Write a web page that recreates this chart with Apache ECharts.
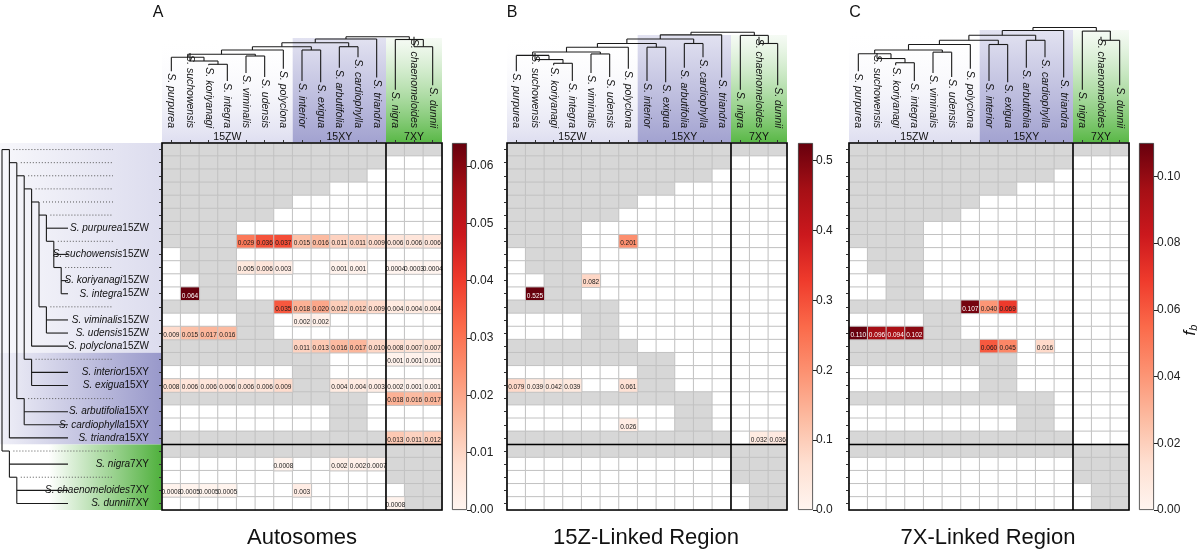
<!DOCTYPE html>
<html><head><meta charset="utf-8">
<script src="https://cdn.jsdelivr.net/npm/echarts@6/dist/echarts.min.js"></script>
<style>html,body{margin:0;padding:0;background:#fff}#c{width:1200px;height:554px}</style>
</head><body><div id="c"></div>
<script>
// ---------------- DATA ----------------
const SPECIES = ['S. purpurea','S. suchowensis','S. koriyanagi','S. integra','S. viminalis','S. udensis','S. polyclona',
  'S. interior','S. exigua','S. arbutifolia','S. cardiophylla','S. triandra','S. nigra','S. chaenomeloides','S. dunnii'];
const GROUP_NAMES = ['15ZW','15XY','7XY'];
const GROUP_SIZES = [7,5,3];
const ROW_LABELS = ['','','','','','','S. purpurea15ZW','','S. suchowensis15ZW','','S. koriyanagi15ZW','S. integra15ZW',
  '','S. viminalis15ZW','S. udensis15ZW','S. polyclona15ZW','','S. interior15XY','S. exigua15XY','',
  'S. arbutifolia15XY','S. cardiophylla15XY','S. triandra15XY','','S. nigra7XY','','S. chaenomeloides7XY','S. dunnii7XY'];
const ROW_PARENT = [-1,0,1,2,3,4,5,5,7,7,9,9,4,12,12,3,2,16,16,1,19,19,0,-1,23,23,25,25];
const ROW_GROUP = [0,0,0,0,0,0,0,0,0,0,0,0,0,0,0,0,1,1,1,1,1,1,1,2,2,2,2,2];
const GRAY_MASK = [
 '111111111111111','111111111111000','111111111110000','111111111000000','111111100000000',
 '111111000000000','111100000000000','111100000000000','011100000000000','011100000000000',
 '001100000000000','001100000000000','111111000000000','000011000000000','000011000000000',
 '111111100000000','111111111000000','000000011000000','000000011000000','111111111110000',
 '000000000110000','000000000110000','111111111111000','111111111111111','000000000000111',
 '000000000000111','000000000000011','000000000000011'];
// [row, col, fb]
const VALUES_A = [
 [7,4,0.029],[7,5,0.036],[7,6,0.037],[7,7,0.015],[7,8,0.016],[7,9,0.011],[7,10,0.011],[7,11,0.009],[7,12,0.006],[7,13,0.006],[7,14,0.006],
 [9,4,0.005],[9,5,0.006],[9,6,0.003],[9,9,0.001],[9,10,0.001],[9,12,0.0004],[9,13,0.0003],[9,14,0.0004],
 [11,1,0.064],
 [12,6,0.035],[12,7,0.018],[12,8,0.02],[12,9,0.012],[12,10,0.012],[12,11,0.009],[12,12,0.004],[12,13,0.004],[12,14,0.004],
 [13,7,0.002],[13,8,0.002],
 [14,0,0.009],[14,1,0.015],[14,2,0.017],[14,3,0.016],
 [15,7,0.011],[15,8,0.013],[15,9,0.016],[15,10,0.017],[15,11,0.010],[15,12,0.008],[15,13,0.007],[15,14,0.007],
 [16,12,0.001],[16,13,0.001],[16,14,0.001],
 [18,0,0.008],[18,1,0.006],[18,2,0.006],[18,3,0.006],[18,4,0.006],[18,5,0.006],[18,6,0.009],[18,9,0.004],[18,10,0.004],[18,11,0.003],[18,12,0.002],[18,13,0.001],[18,14,0.001],
 [19,12,0.018],[19,13,0.016],[19,14,0.017],
 [22,12,0.013],[22,13,0.011],[22,14,0.012],
 [24,6,0.0008],[24,9,0.002],[24,10,0.002],[24,11,0.0007],
 [26,0,0.0008],[26,1,0.0005],[26,2,0.0005],[26,3,0.0005],[26,7,0.003],
 [27,12,0.0008]];
const VALUES_B = [
 [7,6,0.201],[10,4,0.082],[11,1,0.525],
 [18,0,0.079],[18,1,0.039],[18,2,0.042],[18,3,0.039],[18,6,0.061],
 [21,6,0.026],[22,13,0.032],[22,14,0.036]];
const VALUES_C = [
 [12,6,0.107],[12,7,0.040],[12,8,0.069],
 [14,0,0.110],[14,1,0.096],[14,2,0.094],[14,3,0.102],
 [15,7,0.060],[15,8,0.045],[15,10,0.016]];
const RANGE_MAX = [0.064, 0.525, 0.11];
const TICKS_A = [0,0.01,0.02,0.03,0.04,0.05,0.06];
const TICKS_B = [0,0.1,0.2,0.3,0.4,0.5];
const TICKS_C = [0,0.02,0.04,0.06,0.08,0.10];
const TITLES = ['Autosomes','15Z-Linked Region','7X-Linked Region'];
const LETTERS = ['A','B','C'];
// column dendrogram merges: children are leaf indices or merge ids, h = merge height
const MERGES = [
 {id:'ki', l:2, r:3, h:5.7},
 {id:'such', l:1, r:'ki', h:9},
 {id:'purp', l:0, r:'such', h:12.7},
 {id:'vu', l:4, r:5, h:14},
 {id:'zw6', l:'purp', r:'vu', h:15.7},
 {id:'zw', l:'zw6', r:6, h:20},
 {id:'ie', l:7, r:8, h:20},
 {id:'zwie', l:'zw', r:'ie', h:23.3},
 {id:'ac', l:9, r:10, h:23.3},
 {id:'zwieac', l:'zwie', r:'ac', h:27.3},
 {id:'xyzw', l:'zwieac', r:11, h:31},
 {id:'cd', l:13, r:14, h:23.3},
 {id:'x7', l:12, r:'cd', h:30.5},
 {id:'root', l:'xyzw', r:'x7', h:33.3}];

// ---------------- LAYOUT / STYLE ----------------
const FONT = '"Liberation Sans", Arial, sans-serif';
const REDS = ['#fff5f0','#fee0d2','#fcbba1','#fc9272','#fb6a4a','#ef3b2c','#cb181d','#a50f15','#67000d'];
const GRID_TOP = 143, GRID_H = 367, GRID_W = 280;
const PANELS = [
  {left:162, cb:452, dTop:30, dH:40, bandTop:38, letterX:158, titleX:302},
  {left:507, cb:798, dTop:24.7, dH:45, bandTop:35, letterX:512, titleX:646},
  {left:849, cb:1139, dTop:19, dH:51, bandTop:30, letterX:855, titleX:988}];
const VALUES = [VALUES_A, VALUES_B, VALUES_C];
const TICKS = [TICKS_A, TICKS_B, TICKS_C];
const DEC = [2,1,2];
const COL_FS = 10.5, LABEL_MARGIN = 15;
const BAND = [
  {head:['#dedef0','rgba(255,255,255,0)'], side:['#f7f7fb','#dcdcee']},
  {head:['#a2a2d0','#e2e2f1'], side:['#f0f0f8','#9898ca']},
  {head:['#58b745','rgba(240,248,238,0.6)'], side:['#ffffff','#4fb03c']}];

const mctx = document.createElement('canvas').getContext('2d');
mctx.font = 'italic ' + COL_FS + 'px "Liberation Sans"';
const LABEL_W = SPECIES.map(s => mctx.measureText(s).width);
const fmt = v => v >= 0.001 ? v.toFixed(3) : String(v);

function depthOf(r){ let d = 1, p = ROW_PARENT[r]; while (p >= 0){ d++; p = ROW_PARENT[p]; } return d; }
const LINE = {stroke:'#1a1a1a', lineWidth:1.1};

function leftTree(params, api){
  const ch = [];
  const y = r => api.coord([0, r])[1];
  const xd = d => 2 + d * 7.4;
  const rootKids = ROW_PARENT.map((p,i) => p === -1 ? i : -1).filter(i => i >= 0);
  ch.push({type:'line', shape:{x1:xd(0), y1:y(rootKids[0]), x2:xd(0), y2:y(rootKids[rootKids.length-1])}, style:LINE});
  for (let r = 0; r < ROW_PARENT.length; r++){
    const p = ROW_PARENT[r];
    const px = xd(p < 0 ? 0 : depthOf(p));
    const yr = y(r);
    if (ROW_LABELS[r] !== ''){
      ch.push({type:'line', shape:{x1:px, y1:yr, x2:68, y2:yr}, style:LINE});
    } else {
      const nx = xd(depthOf(r));
      ch.push({type:'line', shape:{x1:px, y1:yr, x2:nx, y2:yr}, style:LINE});
      ch.push({type:'line', shape:{x1:nx + 4, y1:yr, x2:113, y2:yr}, style:{stroke:'#555', lineWidth:1, lineDash:[1,2]}});
      const kids = ROW_PARENT.map((q,i) => q === r ? i : -1).filter(i => i >= 0);
      ch.push({type:'line', shape:{x1:nx, y1:yr, x2:nx, y2:y(kids[kids.length-1])}, style:LINE});
    }
  }
  return {type:'group', children:ch};
}

function leftBands(params, api){
  const ch = [];
  const s = api.size([1,1]);
  const x0 = api.coord([0,0])[0] - s[0]/2;
  for (let g = 0; g < 3; g++){
    const rows = ROW_GROUP.map((v,i) => v === g ? i : -1).filter(i => i >= 0);
    const top = api.coord([0, rows[0]])[1] - s[1]/2;
    const bot = api.coord([0, rows[rows.length-1]])[1] + s[1]/2;
    const st = BAND[g].side;
    ch.push({type:'rect', shape:{x:0, y:top, width:x0, height:bot-top},
      style:{fill:new echarts.graphic.LinearGradient(0,0,1,0,[{offset:0,color:st[0]},{offset:g===2?0.3:0,color:st[0]},{offset:1,color:st[1]}])}});
  }
  return {type:'group', children:ch};
}

function headerBands(p){
  return function(params, api){
    const ch = [];
    const s = api.size([1,1]);
    const top = api.coord([0,0])[1] - s[1]/2;
    let start = 0;
    for (let g = 0; g < GROUP_SIZES.length; g++){
      const end = start + GROUP_SIZES[g] - 1;
      const xa = api.coord([start,0])[0] - s[0]/2, xb = api.coord([end,0])[0] + s[0]/2;
      const hc = BAND[g].head;
      ch.push({type:'rect', shape:{x:xa, y:PANELS[p].bandTop, width:xb-xa, height:top-PANELS[p].bandTop},
        style:{fill:new echarts.graphic.LinearGradient(0,1,0,0,[{offset:0,color:hc[0]},{offset:1,color:hc[1]}])}});
      ch.push({type:'text', x:(xa+xb)/2, y:top-6, style:{text:GROUP_NAMES[g], fill:'#111', font:'10.5px ' + FONT, align:'center', verticalAlign:'middle'}});
      start = end + 1;
    }
    return {type:'group', children:ch};
  };
}

function frame(params, api){
  const s = api.size([1,1]);
  const c0 = api.coord([0,0]);
  const L = c0[0] - s[0]/2, T = c0[1] - s[1]/2;
  const W = SPECIES.length * s[0], H = ROW_LABELS.length * s[1];
  const cs = api.value(0), rs = api.value(1);
  const st = {stroke:'#000', lineWidth:1.6, fill:null};
  return {type:'group', children:[
    {type:'rect', shape:{x:L, y:T, width:W, height:H}, style:st},
    {type:'line', shape:{x1:L + cs*s[0], y1:T, x2:L + cs*s[0], y2:T+H}, style:st},
    {type:'line', shape:{x1:L, y1:T + rs*s[1], x2:L+W, y2:T + rs*s[1]}, style:st}]};
}

function dendro(params, api){
  const ch = [];
  const pos = {};
  const labelBase = GRID_TOP - LABEL_MARGIN;
  const leafPos = i => [api.coord([i, 0])[0], labelBase - LABEL_W[i] - 2];
  const get = k => typeof k === 'number' ? leafPos(k) : pos[k];
  MERGES.forEach(m => {
    const a = get(m.l), b = get(m.r);
    const yy = api.coord([0, m.h])[1];
    ch.push({type:'line', shape:{x1:a[0], y1:yy, x2:b[0], y2:yy}, style:LINE});
    ch.push({type:'line', shape:{x1:a[0], y1:yy, x2:a[0], y2:a[1]}, style:LINE});
    ch.push({type:'line', shape:{x1:b[0], y1:yy, x2:b[0], y2:b[1]}, style:LINE});
    pos[m.id] = [(a[0]+b[0])/2, yy];
  });
  return {type:'group', children:ch};
}

// ---------------- OPTION ----------------
const grid = [], xAxis = [], yAxis = [], series = [], visualMap = [];
const rowIds = ROW_LABELS.map((_,i) => 'r' + i);

PANELS.forEach((P, p) => {
  const gi = p * 3;
  grid.push({left:P.left, top:GRID_TOP, width:GRID_W, height:GRID_H});
  grid.push({left:P.left, top:P.dTop, width:GRID_W, height:P.dH});
  grid.push({left:P.cb, top:GRID_TOP, width:15, height:GRID_H});

  xAxis.push({type:'category', gridIndex:gi, data:SPECIES, position:'top',
    axisLine:{show:false}, splitLine:{show:false},
    axisTick:{show:true, alignWithLabel:true, length:3, interval:0, lineStyle:{color:'#333'}},
    axisLabel:{rotate:90, margin:LABEL_MARGIN, interval:0, fontStyle:'italic', fontSize:COL_FS, color:'#111', fontFamily:FONT}});
  yAxis.push({type:'category', gridIndex:gi, data:rowIds, inverse:true,
    axisLine:{show:false}, splitLine:{show:false},
    axisTick:{show:true, alignWithLabel:true, length:3, interval:0, lineStyle:{color:'#333'}},
    axisLabel: p === 0 ? {show:true, interval:0, margin:13, color:'#111', fontFamily:FONT,
      formatter:(v, idx) => { const s = ROW_LABELS[idx]; if (!s) return ''; const m = s.match(/^(.*?)(15ZW|15XY|7XY)$/); return '{i|' + m[1] + '}{n|' + m[2] + '}'; },
      rich:{i:{fontStyle:'italic', fontSize:10, color:'#111', fontFamily:FONT}, n:{fontSize:10, color:'#111', fontFamily:FONT}}} : {show:false}});

  xAxis.push({type:'category', gridIndex:gi+1, data:SPECIES, show:false});
  yAxis.push({type:'value', gridIndex:gi+1, min:0, max:40, show:false});

  xAxis.push({type:'category', gridIndex:gi+2, data:['fb'], show:false});
  yAxis.push({type:'value', gridIndex:gi+2, min:0, max:RANGE_MAX[p], position:'right',
    axisLine:{show:false}, splitLine:{show:false},
    axisTick:{show:true, customValues:TICKS[p], length:4, lineStyle:{color:'#222'}},
    axisLabel:{customValues:TICKS[p], formatter:v => v.toFixed(DEC[p]), fontSize:12, color:'#222', margin:3, fontFamily:FONT}});

  if (p === 0){
    series.push({type:'custom', xAxisIndex:gi, yAxisIndex:gi, z:-1, silent:true, clip:false, data:[[0,0]], renderItem:leftBands});
  }
  series.push({type:'custom', xAxisIndex:gi, yAxisIndex:gi, z:-1, silent:true, clip:false, data:[[0,0]], renderItem:headerBands(p)});

  const listed = {};
  VALUES[p].forEach(d => { listed[d[0] + '_' + d[1]] = true; });
  const maskData = [];
  GRAY_MASK.forEach((row, r) => {
    for (let c = 0; c < row.length; c++){
      if (row[c] === '1') maskData.push({value:[c, r, 0], itemStyle:{color:'#d7d7d7'}});
      else if (!listed[r + '_' + c]) maskData.push({value:[c, r, 0], itemStyle:{color:'#ffffff'}});
    }
  });
  series.push({type:'heatmap', xAxisIndex:gi, yAxisIndex:gi, silent:true, data:maskData,
    itemStyle:{borderColor:'#c2c2c2', borderWidth:1}, emphasis:{disabled:true}});

  const mx = RANGE_MAX[p];
  const valData = VALUES[p].map(d => ({value:[d[1], d[0], d[2]],
    label:{color: d[2] > 0.75 * mx ? '#ffffff' : '#1a1a1a'}}));
  visualMap.push({type:'continuous', show:false, seriesIndex:series.length, dimension:2, min:0, max:mx, inRange:{color:REDS}});
  series.push({type:'heatmap', xAxisIndex:gi, yAxisIndex:gi, silent:true, data:valData,
    itemStyle:{borderColor:'#c2c2c2', borderWidth:1}, emphasis:{disabled:true},
    label:{show:true, fontSize:6.5, fontFamily:FONT, offset:[0,2], formatter:q => fmt(q.value[2])}});

  series.push({type:'custom', xAxisIndex:gi, yAxisIndex:gi, z:10, silent:true, clip:false,
    data:[[GROUP_SIZES[0] + GROUP_SIZES[1], ROW_GROUP.filter(g => g < 2).length]], renderItem:frame});

  if (p === 0){
    series.push({type:'custom', xAxisIndex:gi, yAxisIndex:gi, z:5, silent:true, clip:false, data:[[0,0]], renderItem:leftTree});
  }

  series.push({type:'custom', xAxisIndex:gi+1, yAxisIndex:gi+1, z:5, silent:true, clip:false, data:[[0,0]], renderItem:dendro});

  series.push({type:'bar', xAxisIndex:gi+2, yAxisIndex:gi+2, silent:true, barWidth:'100%', data:[mx],
    itemStyle:{color:new echarts.graphic.LinearGradient(0,1,0,0, REDS.map((c,i) => ({offset:i/(REDS.length-1), color:c}))),
      borderColor:'#333', borderWidth:0.8}});
});

const graphic = [];
PANELS.forEach((P, p) => {
  graphic.push({type:'text', x:P.letterX, y:13, style:{text:LETTERS[p], font:'16px ' + FONT, fill:'#111', align:'center', verticalAlign:'middle'}});
  graphic.push({type:'text', x:P.titleX, y:538, style:{text:TITLES[p], font:'22px ' + FONT, fill:'#111', align:'center', verticalAlign:'middle'}});
});
graphic.push({type:'text', x:1190, y:330, rotation:Math.PI/2,
  style:{text:'{i|f}{s|b}', align:'center', verticalAlign:'middle', fill:'#111',
    rich:{i:{fontStyle:'italic', fontSize:17, fontFamily:FONT, fill:'#111'}, s:{fontStyle:'italic', fontSize:11, fontFamily:FONT, fill:'#111', padding:[8,0,0,0]}}}});

const chart = echarts.init(document.getElementById('c'), null, {renderer:'canvas'});
chart.setOption({animation:false, backgroundColor:'#ffffff', textStyle:{fontFamily:FONT},
  grid, xAxis, yAxis, series, visualMap, graphic});
</script></body></html>
